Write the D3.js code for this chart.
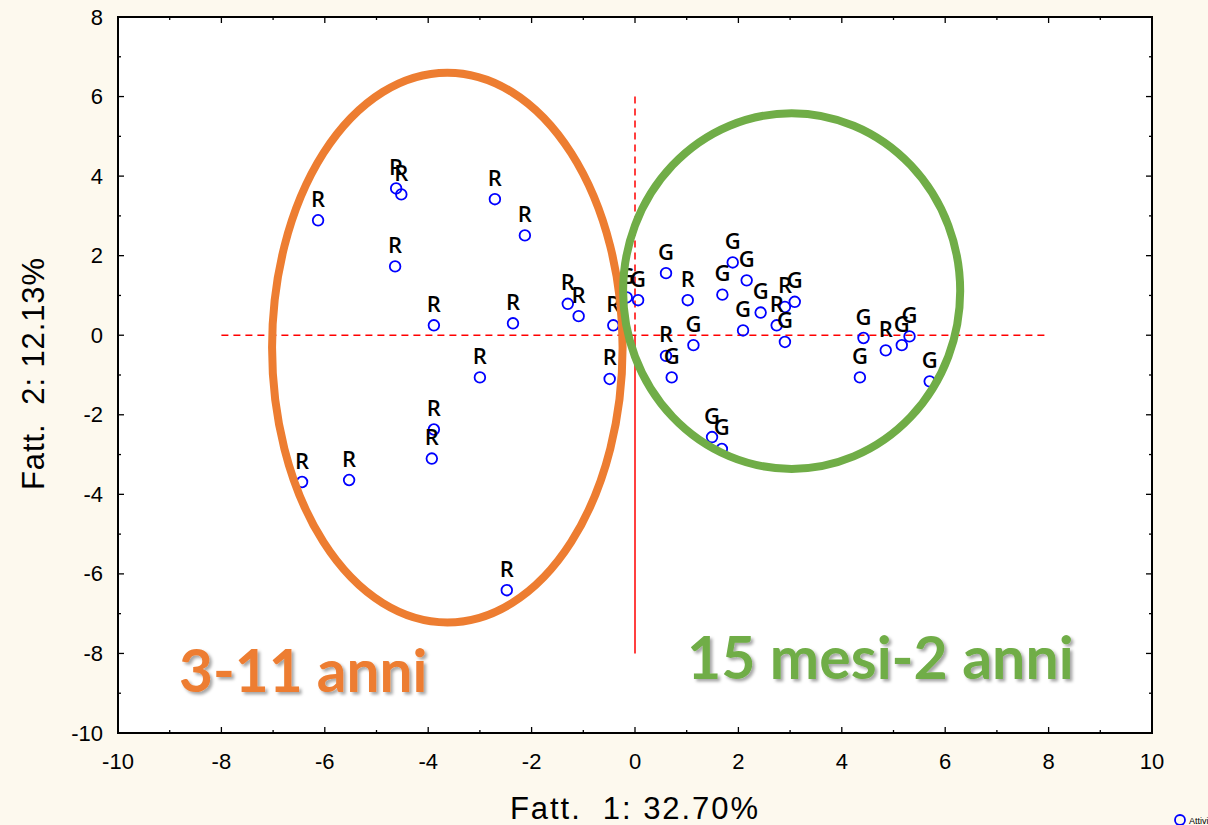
<!DOCTYPE html>
<html>
<head>
<meta charset="utf-8">
<script src="https://cdn.jsdelivr.net/npm/d3@7"></script>
<style>
  html, body { margin: 0; padding: 0; background: #FDF9EE; }
  svg { display: block; }
</style>
</head>
<body>
<svg id="chart" width="1208" height="825"></svg>
<script>
// Factor scores of the cases on the first two factors
const factor1 = [
  -6.13, -4.62, -4.52, -2.71, -2.13, -4.64, -3.89, -2.36, -1.30, -1.09,
  -0.42, -3.00, -0.49, -3.89, -3.93, -6.44, -5.53, -2.48,
  -0.16, 0.06, 0.60, 1.02, 1.69, 1.89, 2.16, 2.43, 2.09, 2.74,
  2.90, 3.09, 2.90, 1.13, 0.60, 0.71, 4.42, 4.35, 4.85, 5.16,
  5.31, 5.70, 1.49, 1.68
];
const factor2 = [
  2.89, 3.69, 3.54, 3.42, 2.51, 1.73, 0.25, 0.30, 0.79, 0.48,
  0.25, -1.06, -1.10, -2.37, -3.10, -3.69, -3.64, -6.41,
  0.95, 0.88, 1.56, 0.88, 1.02, 1.83, 1.38, 0.57, 0.12, 0.25,
  0.71, 0.84, -0.17, -0.25, -0.52, -1.06, -0.07, -1.06, -0.38, -0.25,
  -0.03, -1.16, -2.56, -2.86
];
const caseGroup = [
  "R", "R", "R", "R", "R", "R", "R", "R", "R", "R",
  "R", "R", "R", "R", "R", "R", "R", "R",
  "G", "G", "G", "R", "G", "G", "G", "G", "G", "R",
  "R", "G", "G", "G", "R", "G", "G", "G", "R", "G",
  "G", "G", "G", "G"
];

// Axis ranges and ticks
const xDomain = [-10, 10];
const yDomain = [-10, 8];
const xTicks = [-10, -8, -6, -4, -2, 0, 2, 4, 6, 8, 10];
const yTicks = [-10, -8, -6, -4, -2, 0, 2, 4, 6, 8];
const xMinorTicks = [-9, -7, -5, -3, -1, 1, 3, 5, 7, 9];
const yMinorTicks = [-9, -7, -5, -3, -1, 1, 3, 5, 7];

// Group ellipses: centre, semi-axes (in factor units)
const clusterNames = ["3-11 anni", "15 mesi-2 anni"];
const clusterCx = [-3.63, 3.03];
const clusterCy = [-0.31, 1.11];
const clusterRx = [3.39, 3.26];
const clusterRy = [6.91, 4.47];
const clusterColors = ["#ED7D31", "#70AD47"];

const svg = d3.select("#chart");
const margin = { left: 118, top: 17, right: 56, bottom: 92 };
const W = 1208, H = 825;
const pw = W - margin.left - margin.right;
const ph = H - margin.top - margin.bottom;

const x = d3.scaleLinear().domain(xDomain).range([0, pw]);
const y = d3.scaleLinear().domain(yDomain).range([ph, 0]);

const defs = svg.append("defs");
const shadow = defs.append("filter").attr("id", "txtShadow")
  .attr("x", "-10%").attr("y", "-20%").attr("width", "130%").attr("height", "150%");
shadow.append("feDropShadow")
  .attr("dx", 2.5).attr("dy", 2.5).attr("stdDeviation", 1.6)
  .attr("flood-color", "#000").attr("flood-opacity", 0.35);

const g = svg.append("g").attr("transform", `translate(${margin.left},${margin.top})`);

// plot background
g.append("rect").attr("width", pw).attr("height", ph).attr("fill", "#fff");

// reference lines through the origin
g.append("line")
  .attr("x1", x(-8)).attr("x2", x(8)).attr("y1", y(0)).attr("y2", y(0))
  .attr("stroke", "#FF0000").attr("stroke-width", 1.5).attr("stroke-dasharray", "7,5");
g.append("line")
  .attr("x1", x(0)).attr("x2", x(0)).attr("y1", y(6)).attr("y2", y(0))
  .attr("stroke", "#FF0000").attr("stroke-width", 1.5).attr("stroke-dasharray", "7,5");
g.append("line")
  .attr("x1", x(0)).attr("x2", x(0)).attr("y1", y(0)).attr("y2", y(-8))
  .attr("stroke", "#FF0000").attr("stroke-width", 1.5);

const pts = factor1.map((v, i) => ({ f1: v, f2: factor2[i], lab: caseGroup[i] }));

// case markers
g.append("g").selectAll("circle").data(pts).join("circle")
  .attr("cx", d => x(d.f1)).attr("cy", d => y(d.f2)).attr("r", 5.3)
  .attr("fill", "none").attr("stroke", "#0000FF").attr("stroke-width", 1.8);

// case labels
g.append("g").selectAll("text").data(pts).join("text")
  .attr("x", d => x(d.f1)).attr("y", d => y(d.f2) - 13.5)
  .attr("text-anchor", "middle")
  .attr("font-family", "'Open Sans', 'Noto Sans', sans-serif")
  .attr("font-weight", 600).attr("font-size", 22)
  .attr("fill", "#000").text(d => d.lab);

// group ellipses
g.append("g").selectAll("ellipse").data(clusterNames).join("ellipse")
  .attr("cx", (d, i) => x(clusterCx[i])).attr("cy", (d, i) => y(clusterCy[i]))
  .attr("rx", (d, i) => x(clusterRx[i]) - x(0)).attr("ry", (d, i) => y(0) - y(clusterRy[i]))
  .attr("fill", "none").attr("stroke", (d, i) => clusterColors[i]).attr("stroke-width", 8);

// frame with inward ticks on all sides
g.append("rect").attr("width", pw).attr("height", ph)
  .attr("fill", "none").attr("stroke", "#000").attr("stroke-width", 2);

const tickG = g.append("g").attr("stroke", "#000").attr("stroke-width", 1.3);
function hTicks(vals, len) {
  vals.forEach(v => {
    tickG.append("line").attr("x1", x(v)).attr("x2", x(v)).attr("y1", ph).attr("y2", ph - len);
    tickG.append("line").attr("x1", x(v)).attr("x2", x(v)).attr("y1", 0).attr("y2", len);
  });
}
function vTicks(vals, len) {
  vals.forEach(v => {
    tickG.append("line").attr("y1", y(v)).attr("y2", y(v)).attr("x1", 0).attr("x2", len);
    tickG.append("line").attr("y1", y(v)).attr("y2", y(v)).attr("x1", pw).attr("x2", pw - len);
  });
}
hTicks(xTicks, 6); hTicks(xMinorTicks, 3);
vTicks(yTicks, 6); vTicks(yMinorTicks, 3);

// tick labels
const tickFont = "'Liberation Sans', Arial, sans-serif";
g.append("g").selectAll("text").data(xTicks).join("text")
  .attr("x", d => x(d)).attr("y", ph + 36)
  .attr("text-anchor", "middle").attr("font-family", tickFont).attr("font-size", 22)
  .attr("fill", "#000").text(d => d);
g.append("g").selectAll("text").data(yTicks).join("text")
  .attr("x", -15).attr("y", d => y(d) + 7.5)
  .attr("text-anchor", "end").attr("font-family", tickFont).attr("font-size", 22)
  .attr("fill", "#000").text(d => d);

// axis titles
svg.append("text").attr("x", 510).attr("y", 819)
  .attr("font-family", tickFont).attr("font-size", 31)
  .attr("textLength", 248).attr("lengthAdjust", "spacing")
  .attr("fill", "#000").attr("xml:space", "preserve").text("Fatt.  1: 32.70%");
svg.append("text").attr("transform", `translate(44,490) rotate(-90)`)
  .attr("font-family", tickFont).attr("font-size", 31)
  .attr("textLength", 232).attr("lengthAdjust", "spacing")
  .attr("fill", "#000").attr("xml:space", "preserve").text("Fatt.  2: 12.13%");

// group captions
const capFont = "Lato, 'Open Sans', sans-serif";
svg.append("text").attr("x", 179).attr("y", 692)
  .attr("font-family", capFont).attr("font-weight", 700).attr("font-size", 58.5)
  .attr("fill", clusterColors[0]).attr("filter", "url(#txtShadow)").text(clusterNames[0]);
svg.append("text").attr("x", 687).attr("y", 679)
  .attr("font-family", capFont).attr("font-weight", 700).attr("font-size", 59)
  .attr("fill", clusterColors[1]).attr("filter", "url(#txtShadow)").text(clusterNames[1]);

// legend
svg.append("circle").attr("cx", 1180).attr("cy", 820).attr("r", 5)
  .attr("fill", "none").attr("stroke", "#0000FF").attr("stroke-width", 1.8);
svg.append("text").attr("x", 1189).attr("y", 824)
  .attr("font-family", tickFont).attr("font-size", 9).attr("fill", "#000").text("Attivi");
</script>
</body>
</html>
